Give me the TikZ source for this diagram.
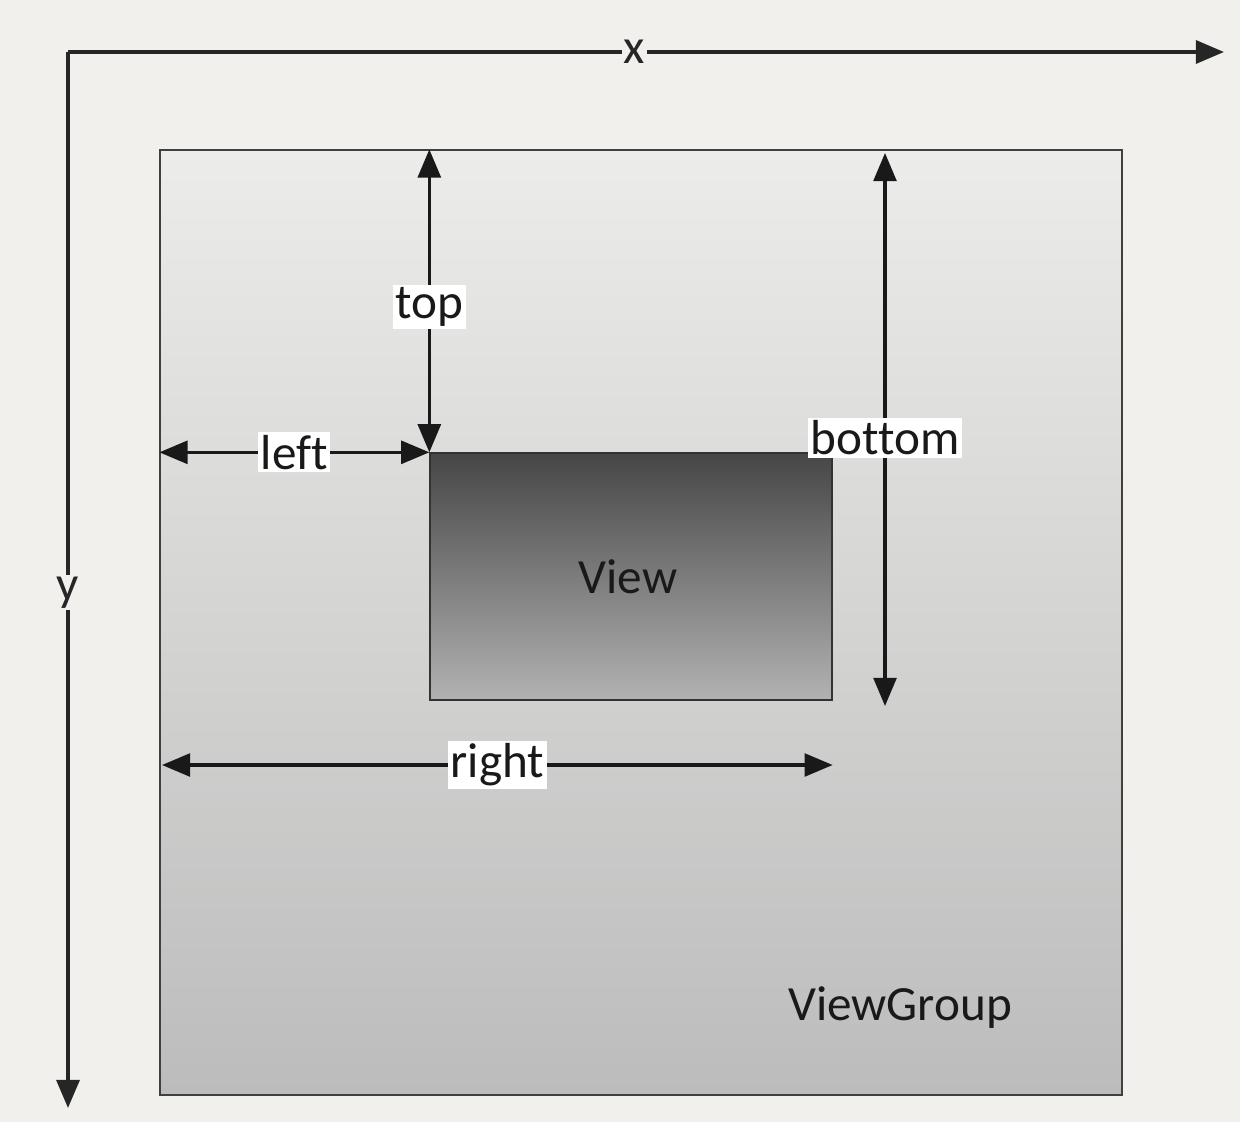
\documentclass[tikz,border=0pt]{standalone}
\usepackage{fontspec}
\setmainfont{Carlito}[Ligatures=NoCommon]
\usetikzlibrary{arrows.meta,calc}
\definecolor{paper}{RGB}{242,240,237}
\begin{document}
\begin{tikzpicture}[x=0.02cm,y=-0.02cm,
  axis/.style={line width=2.2pt,draw=black!85,-{Triangle[length=16pt,width=13pt]}},
  dim/.style={line width=1.8pt,draw=black!90,{Triangle[length=16pt,width=13pt]}-{Triangle[length=16pt,width=13pt]}},
  lbl/.style={fill=white,inner sep=1.5pt,font=\fontsize{28}{30}\selectfont,text=black!90},
  axlbl/.style={fill=paper,inner sep=1pt,font=\fontsize{28}{30}\selectfont,text=black!85},
  boxname/.style={font=\fontsize{28}{30}\selectfont,text=black!90}]
\useasboundingbox (0,0) rectangle (1240,1122);
\fill[paper] (0,0) rectangle (1240,1122);
% ViewGroup
\node[draw=black!75,line width=0.8pt,rectangle,minimum width=19.24cm,minimum height=18.9cm,inner sep=0,
  top color={rgb,255:red,236;green,236;blue,234},bottom color={rgb,255:red,188;green,188;blue,188}] (vg) at (641,622.5) {};
\node[boxname] (vglabel) at (900,1008) {ViewGroup};
% View
\node[draw=black!80,line width=0.8pt,rectangle,minimum width=8.04cm,minimum height=4.94cm,inner sep=0,
  top color={rgb,255:red,70;green,70;blue,70},bottom color={rgb,255:red,178;green,178;blue,178}] (view) at (631,576.5) {};
\node[boxname] (viewlabel) at (628,577) {View};
% axes
\coordinate (O) at (68,52);
\coordinate (xend) at (1224,52);
\coordinate (yend) at (68,1108);
\draw[axis] (O) -- node[axlbl,pos=0.49] (xl) {x} (xend);
\draw[axis] (O) -- node[axlbl,pos=0.512] (yl) {y} (yend);
% dimension arrows
\coordinate (topstart) at (view.north west |- vg.north);
\draw[dim] (topstart) -- node[lbl,pos=0.52] (toplbl) {top} (view.north west);
\coordinate (leftstart) at (vg.west |- view.north west);
\draw[dim] (leftstart) -- node[lbl,pos=0.5] (leftlbl) {left} (view.north west);
\coordinate (btopv) at (885,153);
\coordinate (bbotv) at (885,706);
\draw[dim] (btopv) -- node[lbl,pos=0.515] (botlbl) {bottom} (bbotv);
\coordinate (rstart) at (162,765);
\coordinate (rend) at (view.east |- rstart);
\draw[dim] (rstart) -- node[lbl,pos=0.5] (rightlbl) {right} (rend);
\end{tikzpicture}
\end{document}
